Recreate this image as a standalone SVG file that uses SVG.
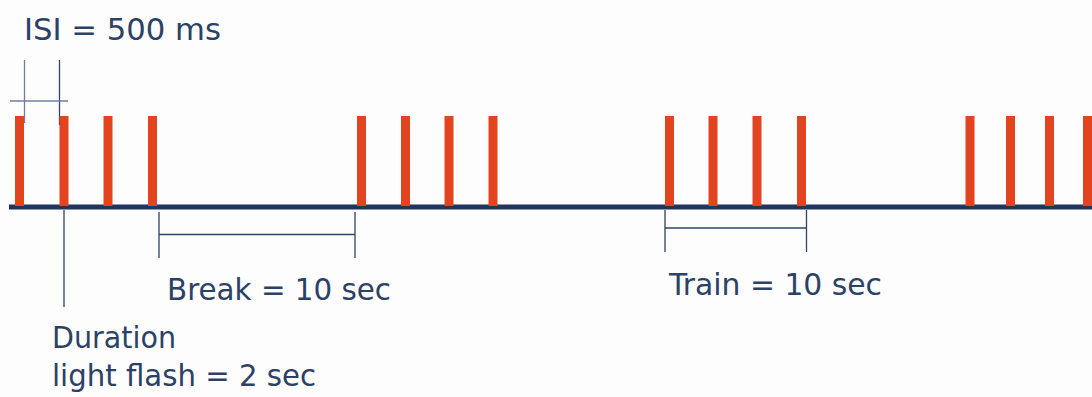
<svg xmlns="http://www.w3.org/2000/svg" width="1092" height="397" viewBox="0 0 1092 397">
<style>
.bar{fill:#E2441F}
.base{stroke:#1F3560;stroke-width:5}
.ln{stroke:#2E4468;stroke-width:1.3;fill:none}
.lt{stroke:#6F7F99;stroke-width:1.3;fill:none}
text{font-family:"DejaVu Sans","Liberation Sans",sans-serif;font-size:30px;fill:#2B4166}
</style>
<rect width="1092" height="397" fill="#FDFDFD"/>
<g id="connectors">
<line class="base" x1="9" y1="207" x2="1092" y2="207"/>
<line class="lt" x1="24.5" y1="60" x2="24.5" y2="123"/>
<line class="ln" x1="59.5" y1="60" x2="59.5" y2="125"/>
<line class="lt" x1="10" y1="101" x2="68" y2="101"/>
<line class="ln" x1="64" y1="210" x2="64" y2="307"/>
<path class="ln" d="M159 212V258M159 234.5H355M355 212V258"/>
<path class="ln" d="M665 210V252M665 228H806.5M806.5 210V252"/>
</g>
<g id="train1">
<rect class="bar" x="15" y="116" width="9" height="90"/>
<rect class="bar" x="59.5" y="116" width="9" height="90"/>
<rect class="bar" x="103.5" y="116" width="9" height="90"/>
<rect class="bar" x="148" y="116" width="9" height="90"/>
</g>
<g id="train2">
<rect class="bar" x="357" y="116" width="9" height="90"/>
<rect class="bar" x="401" y="116" width="9" height="90"/>
<rect class="bar" x="444.5" y="116" width="9" height="90"/>
<rect class="bar" x="488.5" y="116" width="9" height="90"/>
</g>
<g id="train3">
<rect class="bar" x="665" y="116" width="9" height="90"/>
<rect class="bar" x="708.5" y="116" width="9" height="90"/>
<rect class="bar" x="752.5" y="116" width="9" height="90"/>
<rect class="bar" x="797" y="116" width="9" height="90"/>
</g>
<g id="train4">
<rect class="bar" x="965.5" y="116" width="9" height="90"/>
<rect class="bar" x="1006" y="116" width="9" height="90"/>
<rect class="bar" x="1045" y="116" width="9" height="90"/>
<rect class="bar" x="1083" y="116" width="9" height="90"/>
</g>
<g id="label-isi"><text x="24" y="39.5" textLength="197" lengthAdjust="spacingAndGlyphs">ISI = 500 ms</text></g>
<g id="label-break"><text x="167" y="299.5" textLength="224" lengthAdjust="spacingAndGlyphs">Break = 10 sec</text></g>
<g id="label-train"><text x="669" y="295" textLength="213" lengthAdjust="spacingAndGlyphs">Train = 10 sec</text></g>
<g id="label-duration"><text x="52" y="347.5" textLength="124" lengthAdjust="spacingAndGlyphs">Duration</text><text x="52" y="386" textLength="264" lengthAdjust="spacingAndGlyphs">light flash = 2 sec</text></g>
</svg>
